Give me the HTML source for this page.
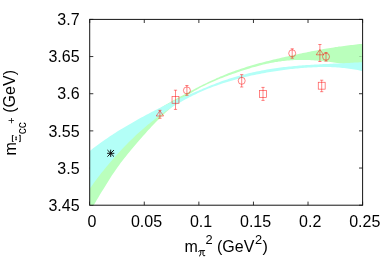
<!DOCTYPE html>
<html><head><meta charset="utf-8"><title>plot</title>
<style>
html,body{margin:0;padding:0;background:#fff;}
svg{display:block;opacity:0.999;}
text{font-family:"Liberation Sans",sans-serif;font-size:16px;fill:#000;}
.sym{font-family:"Liberation Serif",serif;}
</style></head><body>
<svg width="392" height="274" viewBox="0 0 392 274">
<rect width="392" height="274" fill="#fff"/>
<defs><filter id="b1" x="-5%" y="-5%" width="110%" height="110%"><feGaussianBlur stdDeviation="0.5"/></filter><filter id="b2" x="-5%" y="-5%" width="110%" height="110%"><feGaussianBlur stdDeviation="0.3"/></filter><clipPath id="c"><rect x="89.7" y="19.4" width="272.90000000000003" height="185.79999999999998"/></clipPath></defs>
<path d="M89.7 19.40h3.6M362.6 19.40h-3.6M89.7 56.56h3.6M362.6 56.56h-3.6M89.7 93.72h3.6M362.6 93.72h-3.6M89.7 130.88h3.6M362.6 130.88h-3.6M89.7 168.04h3.6M362.6 168.04h-3.6M89.7 205.20h3.6M362.6 205.20h-3.6M89.70 205.2v-3.6M89.70 19.4v3.6M144.28 205.2v-3.6M144.28 19.4v3.6M198.86 205.2v-3.6M198.86 19.4v3.6M253.44 205.2v-3.6M253.44 19.4v3.6M308.02 205.2v-3.6M308.02 19.4v3.6M362.60 205.2v-3.6M362.60 19.4v3.6" stroke="#000" stroke-width="0.8" fill="none"/>
<g clip-path="url(#c)"><g filter="url(#b1)">
<polygon points="89.7,172.3 91.4,169.8 93.1,167.3 94.9,164.9 96.6,162.6 98.3,160.4 100.0,158.2 101.7,156.1 103.5,154.0 105.2,152.1 106.9,150.1 108.6,148.3 110.3,146.5 112.0,144.7 113.8,143.0 115.5,141.3 117.2,139.7 118.9,138.1 120.6,136.6 122.4,135.1 124.1,133.6 125.8,132.2 127.5,130.8 129.2,129.5 131.0,128.1 132.7,126.8 134.4,125.5 136.1,124.3 137.8,123.0 139.5,121.8 141.3,120.6 143.0,119.4 144.7,118.2 146.4,117.0 148.1,115.9 149.9,114.7 151.6,113.6 153.3,112.5 155.0,111.4 156.7,110.3 158.5,109.3 160.2,108.2 161.9,107.2 163.6,106.1 165.3,105.1 167.0,104.1 168.8,103.1 170.5,102.1 172.2,101.1 173.9,100.1 175.6,99.2 177.4,98.2 179.1,97.2 180.8,96.3 182.5,95.4 184.2,94.4 186.0,93.5 187.7,92.6 189.4,91.7 191.1,90.8 192.8,89.9 194.6,89.0 196.3,88.1 198.0,87.2 199.7,86.3 201.4,85.5 203.1,84.6 204.9,83.8 206.6,82.9 208.3,82.1 210.0,81.3 211.7,80.5 213.5,79.7 215.2,78.9 216.9,78.1 218.6,77.4 220.3,76.6 222.1,75.9 223.8,75.2 225.5,74.5 227.2,73.8 228.9,73.1 230.6,72.5 232.4,71.8 234.1,71.2 235.8,70.6 237.5,70.0 239.2,69.4 241.0,68.8 242.7,68.2 244.4,67.7 246.1,67.1 247.8,66.6 249.6,66.1 251.3,65.6 253.0,65.1 254.7,64.6 256.4,64.1 258.1,63.6 259.9,63.1 261.6,62.7 263.3,62.2 265.0,61.8 266.7,61.3 268.5,60.9 270.2,60.4 271.9,60.0 273.6,59.6 275.3,59.2 277.1,58.8 278.8,58.4 280.5,58.0 282.2,57.6 283.9,57.2 285.7,56.8 287.4,56.4 289.1,56.0 290.8,55.7 292.5,55.3 294.2,54.9 296.0,54.5 297.7,54.2 299.4,53.8 301.1,53.4 302.8,53.1 304.6,52.7 306.3,52.4 308.0,52.0 309.7,51.7 311.4,51.3 313.2,51.0 314.9,50.7 316.6,50.4 318.3,50.0 320.0,49.7 321.7,49.4 323.5,49.1 325.2,48.8 326.9,48.5 328.6,48.2 330.3,48.0 332.1,47.7 333.8,47.4 335.5,47.1 337.2,46.9 338.9,46.6 340.7,46.4 342.4,46.2 344.1,45.9 345.8,45.7 347.5,45.5 349.2,45.3 351.0,45.0 352.7,44.9 354.4,44.7 356.1,44.5 357.8,44.3 359.6,44.1 361.3,44.0 363.0,43.8 363.0,66.0 361.3,65.9 359.6,65.8 357.8,65.6 356.1,65.5 354.4,65.3 352.7,65.1 351.0,64.9 349.2,64.7 347.5,64.5 345.8,64.2 344.1,64.0 342.4,63.8 340.7,63.5 338.9,63.3 337.2,63.0 335.5,62.8 333.8,62.6 332.1,62.3 330.3,62.1 328.6,61.8 326.9,61.6 325.2,61.4 323.5,61.2 321.7,61.0 320.0,60.8 318.3,60.7 316.6,60.5 314.9,60.4 313.2,60.3 311.4,60.2 309.7,60.1 308.0,60.0 306.3,60.0 304.6,59.9 302.8,59.9 301.1,59.9 299.4,59.9 297.7,60.0 296.0,60.0 294.2,60.1 292.5,60.2 290.8,60.3 289.1,60.4 287.4,60.6 285.7,60.8 283.9,60.9 282.2,61.1 280.5,61.4 278.8,61.6 277.1,61.9 275.3,62.1 273.6,62.4 271.9,62.8 270.2,63.1 268.5,63.4 266.7,63.8 265.0,64.2 263.3,64.6 261.6,65.0 259.9,65.5 258.1,65.9 256.4,66.4 254.7,66.9 253.0,67.3 251.3,67.8 249.6,68.4 247.8,68.9 246.1,69.4 244.4,70.0 242.7,70.5 241.0,71.1 239.2,71.7 237.5,72.3 235.8,72.9 234.1,73.5 232.4,74.1 230.6,74.7 228.9,75.3 227.2,76.0 225.5,76.6 223.8,77.2 222.1,77.9 220.3,78.6 218.6,79.3 216.9,80.0 215.2,80.7 213.5,81.4 211.7,82.2 210.0,83.0 208.3,83.7 206.6,84.5 204.9,85.4 203.1,86.2 201.4,87.1 199.7,88.0 198.0,88.9 196.3,89.9 194.6,90.8 192.8,91.9 191.1,92.9 189.4,94.0 187.7,95.1 186.0,96.3 184.2,97.4 182.5,98.7 180.8,99.9 179.1,101.2 177.4,102.5 175.6,103.9 173.9,105.3 172.2,106.7 170.5,108.2 168.8,109.7 167.0,111.2 165.3,112.8 163.6,114.4 161.9,116.0 160.2,117.7 158.5,119.4 156.7,121.2 155.0,122.9 153.3,124.8 151.6,126.6 149.9,128.5 148.1,130.3 146.4,132.3 144.7,134.2 143.0,136.1 141.3,138.1 139.5,140.1 137.8,142.1 136.1,144.1 134.4,146.1 132.7,148.1 131.0,150.1 129.2,152.2 127.5,154.3 125.8,156.4 124.1,158.6 122.4,160.8 120.6,163.1 118.9,165.4 117.2,167.8 115.5,170.2 113.8,172.7 112.0,175.3 110.3,178.0 108.6,180.7 106.9,183.5 105.2,186.2 103.5,189.0 101.7,191.8 100.0,194.6 98.3,197.4 96.6,200.3 94.9,203.2 93.1,206.2 91.4,209.2 89.7,212.4" fill="#baffbc"/>
<polygon points="89.7,151.0 91.4,149.7 93.1,148.3 94.9,147.0 96.6,145.7 98.3,144.5 100.0,143.2 101.7,142.0 103.5,140.8 105.2,139.6 106.9,138.4 108.6,137.2 110.3,136.1 112.0,134.9 113.8,133.8 115.5,132.7 117.2,131.6 118.9,130.5 120.6,129.5 122.4,128.4 124.1,127.4 125.8,126.4 127.5,125.4 129.2,124.4 131.0,123.4 132.7,122.4 134.4,121.4 136.1,120.4 137.8,119.5 139.5,118.5 141.3,117.6 143.0,116.7 144.7,115.8 146.4,114.8 148.1,113.9 149.9,113.0 151.6,112.1 153.3,111.2 155.0,110.3 156.7,109.5 158.5,108.6 160.2,107.7 161.9,106.8 163.6,106.0 165.3,105.1 167.0,104.3 168.8,103.4 170.5,102.6 172.2,101.8 173.9,101.0 175.6,100.3 177.4,99.5 179.1,98.8 180.8,98.1 182.5,97.4 184.2,96.6 186.0,95.9 187.7,95.2 189.4,94.5 191.1,93.8 192.8,93.1 194.6,92.3 196.3,91.6 198.0,90.9 199.7,90.1 201.4,89.4 203.1,88.6 204.9,87.9 206.6,87.2 208.3,86.4 210.0,85.7 211.7,85.0 213.5,84.4 215.2,83.7 216.9,83.0 218.6,82.4 220.3,81.8 222.1,81.1 223.8,80.5 225.5,80.0 227.2,79.4 228.9,78.8 230.6,78.3 232.4,77.7 234.1,77.2 235.8,76.7 237.5,76.2 239.2,75.7 241.0,75.3 242.7,74.8 244.4,74.4 246.1,73.9 247.8,73.5 249.6,73.1 251.3,72.7 253.0,72.3 254.7,71.9 256.4,71.6 258.1,71.2 259.9,70.9 261.6,70.5 263.3,70.2 265.0,69.9 266.7,69.6 268.5,69.3 270.2,69.0 271.9,68.8 273.6,68.5 275.3,68.2 277.1,68.0 278.8,67.8 280.5,67.5 282.2,67.3 283.9,67.1 285.7,66.9 287.4,66.7 289.1,66.5 290.8,66.4 292.5,66.2 294.2,66.0 296.0,65.9 297.7,65.7 299.4,65.6 301.1,65.5 302.8,65.3 304.6,65.2 306.3,65.1 308.0,65.0 309.7,64.9 311.4,64.8 313.2,64.7 314.9,64.6 316.6,64.5 318.3,64.4 320.0,64.3 321.7,64.2 323.5,64.1 325.2,64.0 326.9,63.9 328.6,63.9 330.3,63.8 332.1,63.7 333.8,63.6 335.5,63.6 337.2,63.5 338.9,63.4 340.7,63.3 342.4,63.2 344.1,63.2 345.8,63.1 347.5,63.0 349.2,62.9 351.0,62.8 352.7,62.7 354.4,62.6 356.1,62.5 357.8,62.4 359.6,62.3 361.3,62.2 363.0,62.1 363.0,71.3 361.3,70.9 359.6,70.5 357.8,70.1 356.1,69.8 354.4,69.5 352.7,69.2 351.0,68.9 349.2,68.7 347.5,68.4 345.8,68.2 344.1,68.0 342.4,67.9 340.7,67.7 338.9,67.6 337.2,67.4 335.5,67.3 333.8,67.2 332.1,67.2 330.3,67.1 328.6,67.1 326.9,67.1 325.2,67.0 323.5,67.0 321.7,67.1 320.0,67.1 318.3,67.1 316.6,67.2 314.9,67.2 313.2,67.3 311.4,67.4 309.7,67.5 308.0,67.6 306.3,67.7 304.6,67.8 302.8,68.0 301.1,68.1 299.4,68.2 297.7,68.4 296.0,68.6 294.2,68.8 292.5,68.9 290.8,69.1 289.1,69.3 287.4,69.6 285.7,69.8 283.9,70.0 282.2,70.2 280.5,70.5 278.8,70.7 277.1,71.0 275.3,71.2 273.6,71.5 271.9,71.8 270.2,72.1 268.5,72.3 266.7,72.6 265.0,72.9 263.3,73.2 261.6,73.6 259.9,73.9 258.1,74.2 256.4,74.6 254.7,74.9 253.0,75.3 251.3,75.6 249.6,76.0 247.8,76.4 246.1,76.8 244.4,77.2 242.7,77.6 241.0,78.1 239.2,78.5 237.5,78.9 235.8,79.4 234.1,79.9 232.4,80.4 230.6,80.9 228.9,81.4 227.2,81.9 225.5,82.5 223.8,83.0 222.1,83.6 220.3,84.2 218.6,84.7 216.9,85.4 215.2,86.0 213.5,86.6 211.7,87.3 210.0,87.9 208.3,88.6 206.6,89.3 204.9,90.0 203.1,90.8 201.4,91.5 199.7,92.3 198.0,93.1 196.3,93.9 194.6,94.7 192.8,95.5 191.1,96.4 189.4,97.3 187.7,98.2 186.0,99.1 184.2,100.0 182.5,100.9 180.8,101.9 179.1,102.9 177.4,103.9 175.6,105.0 173.9,106.0 172.2,107.1 170.5,108.2 168.8,109.3 167.0,110.4 165.3,111.6 163.6,112.8 161.9,114.0 160.2,115.2 158.5,116.5 156.7,117.8 155.0,119.1 153.3,120.4 151.6,121.8 149.9,123.2 148.1,124.6 146.4,126.0 144.7,127.5 143.0,128.9 141.3,130.5 139.5,132.0 137.8,133.6 136.1,135.1 134.4,136.8 132.7,138.4 131.0,140.1 129.2,141.8 127.5,143.5 125.8,145.3 124.1,147.0 122.4,148.8 120.6,150.7 118.9,152.5 117.2,154.4 115.5,156.3 113.8,158.3 112.0,160.2 110.3,162.2 108.6,164.2 106.9,166.3 105.2,168.3 103.5,170.5 101.7,172.6 100.0,174.8 98.3,177.0 96.6,179.3 94.9,181.6 93.1,184.0 91.4,186.4 89.7,188.8" fill="#b3fff7"/>
</g></g>
<path d="M359.2 56.6h2.4" stroke="#5a7a5a" stroke-width="0.8" opacity="0.45"/>
<g stroke="#ff0000" stroke-width="0.68" fill="none" stroke-opacity="0.7" filter="url(#b2)">
<path d="M159.9 110.3V118.3M158.3 110.3H161.5M158.3 118.3H161.5"/>
<path d="M159.9 110.7L163.6 116.0H156.20000000000002Z"/>
<path d="M175.5 90.2V109.4M173.9 90.2H177.1M173.9 109.4H177.1"/>
<rect x="172.05" y="96.35" width="6.9" height="6.9"/>
<path d="M186.9 85.5V95.3M185.3 85.5H188.5M185.3 95.3H188.5"/>
<circle cx="186.9" cy="90.4" r="3.5"/>
<path d="M241.7 74.6V87.0M240.1 74.6H243.29999999999998M240.1 87.0H243.29999999999998"/>
<circle cx="241.7" cy="80.8" r="3.5"/>
<path d="M263.0 87.4V100.4M261.4 87.4H264.6M261.4 100.4H264.6"/>
<rect x="259.55" y="90.45" width="6.9" height="6.9"/>
<path d="M292.2 48.8V58.2M290.59999999999997 48.8H293.8M290.59999999999997 58.2H293.8"/>
<circle cx="292.2" cy="53.3" r="3.5"/>
<path d="M319.9 44.5V61.5M318.29999999999995 44.5H321.5M318.29999999999995 61.5H321.5"/>
<path d="M319.9 49.5L323.59999999999997 54.8H316.2Z"/>
<path d="M326.0 52.5V61.1M324.4 52.5H327.6M324.4 61.1H327.6"/>
<circle cx="326.0" cy="56.7" r="3.5"/>
<path d="M321.7 80.2V91.7M320.09999999999997 80.2H323.3M320.09999999999997 91.7H323.3"/>
<rect x="318.25" y="82.25" width="6.9" height="6.9"/>
</g>
<path d="M107.10000000000001 153.3h7.2M110.7 149.70000000000002v7.2M107.4 150.0l6.6 6.6M107.4 156.60000000000002l6.6 -6.6" stroke="#0a0a0a" stroke-width="0.95" fill="none"/>
<rect x="89.7" y="19.4" width="272.90000000000003" height="185.79999999999998" fill="none" stroke="#141414" stroke-width="1.0"/>
<text x="79.6" y="25.1" text-anchor="end">3.7</text><text x="79.6" y="62.3" text-anchor="end">3.65</text><text x="79.6" y="99.4" text-anchor="end">3.6</text><text x="79.6" y="136.6" text-anchor="end">3.55</text><text x="79.6" y="173.7" text-anchor="end">3.5</text><text x="79.6" y="210.9" text-anchor="end">3.45</text>
<text x="91.9" y="227.1" text-anchor="middle">0</text><text x="146.5" y="227.1" text-anchor="middle">0.05</text><text x="201.1" y="227.1" text-anchor="middle">0.1</text><text x="255.6" y="227.1" text-anchor="middle">0.15</text><text x="310.2" y="227.1" text-anchor="middle">0.2</text><text x="364.8" y="227.1" text-anchor="middle">0.25</text>
<!-- x label -->
<text x="184.6" y="251.6">m</text>
<path d="M198.6 251.5Q199.0 250.55 200.2 250.55H204.7" stroke="#000" stroke-width="0.95" fill="none" stroke-linecap="round"/><path d="M200.9 250.7Q201.0 254.2 199.9 255.7L199.4 256.0M203.0 250.7V254.9Q203.1 256.2 204.8 255.7" stroke="#000" stroke-width="1.0" fill="none" stroke-linecap="round"/>
<text x="205.6" y="243.5" style="font-size:12.8px">2</text>
<text x="217.0" y="251.6">(GeV</text>
<text x="254.9" y="243.5" style="font-size:12.8px">2</text>
<text x="262.6" y="251.6">)</text>
<!-- y label -->
<path d="M12.4 135.3V141.7M12.4 135.5H13.5M12.4 141.5H13.5M20.2 135.1V141.8M20.2 135.3H19.1M20.2 141.6H19.1" stroke="#000" stroke-width="1.0" fill="none"/><path d="M16.1 136.9V139.9M15.3 137.1H16.9M15.3 139.7H16.9" stroke="#000" stroke-width="0.9" fill="none"/>
<g transform="translate(15.5,155.4) rotate(-90)">
<text x="0" y="0">m</text>

<text x="21.1" y="10.1" style="font-size:12px">cc</text>
<text x="34.8" y="-0.3" text-anchor="middle" style="font-size:11px">+</text>
<text x="42.7" y="-0.4">(GeV)</text>
</g>
</svg>
</body></html>
